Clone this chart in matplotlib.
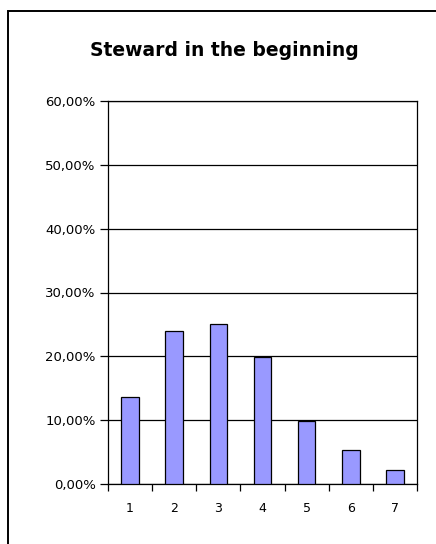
import matplotlib
matplotlib.use("Agg")
import matplotlib.pyplot as plt
from matplotlib.patches import Rectangle
from matplotlib.ticker import FuncFormatter, MultipleLocator

# Share of answers per rating
categories = ["1", "2", "3", "4", "5", "6", "7"]
shares = [13.7, 24.0, 25.0, 19.9, 9.8, 5.3, 2.2]
title = "Steward in the beginning"

W, H = 436, 544
fig = plt.figure(figsize=(W / 100, H / 100), dpi=100)
fig.patch.set_facecolor("white")

# Chart-area border (runs off the right and bottom edges)
fig.patches.append(Rectangle((8 / W, -0.1), 1.2, 1 - 11 / H + 0.1,
                             transform=fig.transFigure, fill=False,
                             edgecolor="black", linewidth=1.4, zorder=0))

ax = fig.add_axes([108 / W, 1 - 484 / H, (417 - 108) / W, (484 - 101) / H])
x = range(len(categories))
ax.bar(x, shares, width=0.4, color="#9999FF", edgecolor="black",
       linewidth=0.9, zorder=3)

ax.set_xlim(-0.5, len(categories) - 0.5)
ax.set_ylim(0, 60)
ax.yaxis.set_major_locator(MultipleLocator(10))
ax.yaxis.set_major_formatter(FuncFormatter(lambda v, _: f"{v:.2f}".replace(".", ",") + "%"))
ax.set_xticks(list(x))
ax.set_xticklabels(categories)
ax.set_xticks([i - 0.5 for i in range(len(categories) + 1)], minor=True)

ax.grid(axis="y", color="black", linewidth=0.9, zorder=1)
for s in ax.spines.values():
    s.set_linewidth(0.9)
    s.set_color("black")

ax.tick_params(axis="y", direction="out", length=6, width=0.9, pad=3,
               labelsize=9.5, colors="black")
ax.tick_params(axis="x", which="major", length=0, pad=13, labelsize=9)
ax.tick_params(axis="x", which="minor", direction="out", length=5, width=0.9)

fig.text(224 / W, 1 - 50 / H, title, ha="center", va="center",
         fontsize=13.5, fontweight="bold")

fig.savefig("out.png", dpi=100)
